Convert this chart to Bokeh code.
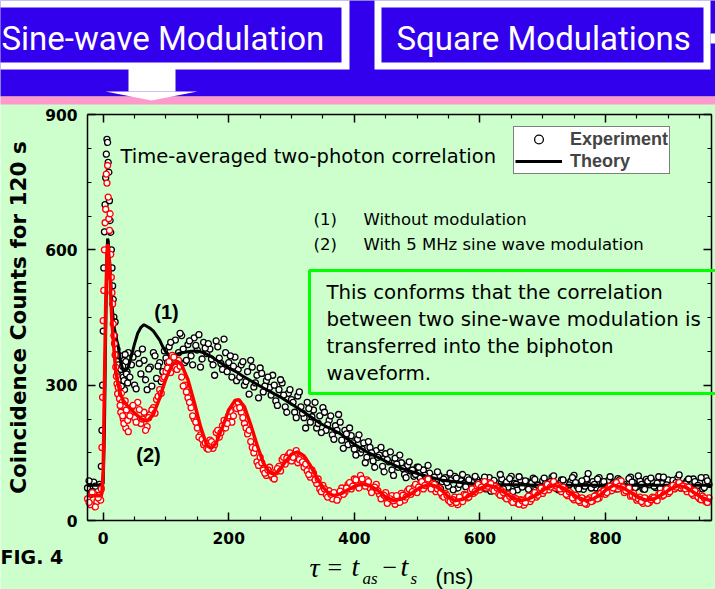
from bokeh.plotting import figure
from bokeh.models import Range1d, LinearAxis, FixedTicker, Label, Legend, LegendItem, BoxAnnotation
from bokeh.embed import file_html
from bokeh.resources import INLINE
from bokeh.core.properties import value

# ---------------- data ----------------
tau_ns = [-25, -20, -15, -10, -6,
          -4, -3, -2, -1, 0, 1, 2, 3, 4, 5, 6, 7, 8, 9, 10, 11, 12, 13, 14, 15, 16, 17, 18, 19, 20, 21, 22, 23, 24,
          26, 28, 30, 32, 34, 36, 38, 40,
          45, 50, 55, 60, 65, 70, 75, 80, 85, 90, 95, 100,
          105, 110, 115, 120, 125, 130, 135, 140, 145, 150, 155, 160, 165,
          170, 175, 180, 185, 190, 195, 200, 205, 210, 215,
          220, 225, 230, 235, 240, 245, 250, 255, 260, 265, 270, 275, 280, 285, 290, 295, 300,
          305, 310, 315, 320, 325, 330, 335, 340, 345, 350, 355, 360, 365, 370, 375, 380, 385, 390, 395, 400,
          405, 410, 415, 420, 425, 430, 435, 440, 445, 450, 455, 460, 465, 470, 475, 480, 485, 490, 495, 500,
          505, 510, 515, 520, 525, 530, 535, 540, 545, 550, 555, 560, 565, 570, 575, 580, 585, 590, 595, 600,
          605, 610, 615, 620, 625, 630, 635, 640, 645, 650, 655, 660, 665, 670, 675, 680, 685, 690, 695, 700,
          705, 710, 715, 720, 725, 730, 735, 740, 745, 750, 755, 760, 765, 770, 775, 780, 785, 790, 795, 800,
          805, 810, 815, 820, 825, 830, 835, 840, 845, 850, 855, 860, 865, 870, 875, 880, 885, 890, 895, 900,
          905, 910, 915, 920, 925, 930, 935, 940, 945, 950, 955, 960, 965]

# (1) without modulation - experiment
exp_no_mod = [72, 58, 85, 66, 80,
              75, 120, 200, 300, 420, 560, 640, 700, 760, 812, 845, 838, 794, 772, 709, 665, 639, 600, 560, 520,
              490, 451, 410, 440, 390, 365, 380, 330, 345,
              300, 335, 360, 318, 290, 352, 330, 372,
              345, 300, 370, 325, 355, 290, 340, 372, 315, 350, 330, 360,
              385, 345, 400, 372, 410, 350, 390, 365, 405, 378, 340, 395, 370,
              380, 345, 398, 360, 335, 372, 350, 318, 362, 335,
              345, 300, 330, 355, 296, 322, 338, 285, 310, 295, 322, 265, 290, 305, 252, 282, 268,
              240, 276, 252, 228, 262, 218, 245, 205, 232, 250, 200, 222, 190, 210, 235, 178, 200, 168, 188, 158,
              180, 150, 172, 140, 162, 132, 155, 145, 120, 148, 130, 112, 138, 118, 128, 102, 122, 110, 98, 118,
              95, 112, 88, 105, 92, 80, 100, 86, 95, 76, 90, 98, 72, 88, 82, 95, 70, 85, 92, 76,
              88, 70, 95, 78, 84, 66, 92, 80, 74, 98, 82, 68, 90, 77, 86, 72, 94, 80, 70, 88,
              83, 75, 96, 79, 68, 90, 84, 73, 87, 100, 76, 82, 69, 92, 78, 86, 72, 95, 81, 74,
              89, 67, 85, 93, 77, 80, 71, 96, 84, 75, 88, 70, 91, 79, 86, 73, 97, 82, 68, 90,
              76, 85, 94, 72, 81, 88, 74, 92, 78, 84, 70, 95, 80]

# (2) with 5 MHz sine wave modulation - experiment
exp_sine_mod = [48, 35, 60, 42, 55,
                45, 70, 162, 273, 443, 510, 600, 660, 690, 768, 748, 787, 717, 669, 643, 680, 590, 539, 505, 480,
                436, 410, 392, 367, 340, 320, 303, 281, 295,
                270, 240, 262, 225, 252, 205, 238, 197,
                250, 228, 262, 215, 240, 208, 235, 250, 268, 290, 315, 330,
                352, 366, 340, 355, 318, 300, 272, 250, 225, 205, 190, 168, 160,
                178, 160, 195, 185, 210, 205, 232, 218, 255, 262,
                240, 215, 192, 175, 150, 130, 140, 112, 100, 118, 95, 108, 120, 135, 125, 145, 132,
                148, 128, 140, 118, 110, 96, 105, 82, 70, 78, 58, 66, 48, 60, 52, 72, 62, 80, 70, 92,
                78, 100, 84, 90, 72, 68, 80, 58, 50, 62, 42, 55, 36, 50, 60, 45, 66, 58, 74, 62,
                80, 70, 88, 76, 82, 64, 72, 55, 60, 45, 38, 52, 35, 48, 58, 50, 66, 60, 75, 68,
                80, 72, 84, 70, 76, 60, 66, 52, 58, 44, 50, 38, 46, 34, 50, 42, 58, 52, 66, 60,
                74, 68, 82, 72, 78, 64, 70, 55, 60, 46, 52, 40, 48, 36, 50, 44, 56, 50, 64, 58,
                72, 66, 80, 70, 88, 62, 70, 54, 60, 45, 52, 38, 48, 40, 52, 46, 58, 54, 66, 60,
                74, 70, 80, 72, 76, 64, 70, 56, 62, 48, 54, 42, 50]

# second, interleaved set of sampling times (the data are sampled densely)
tau_ns_half = [-22.5, -17.5, -12.5, -8, 27, 29, 31, 33, 35, 37, 39,
               42.5, 47.5, 52.5, 57.5, 62.5, 67.5, 72.5, 77.5, 82.5, 87.5, 92.5, 97.5,
               102.5, 107.5, 112.5, 117.5, 122.5, 127.5, 132.5, 137.5, 142.5, 147.5, 152.5, 157.5, 162.5,
               167.5, 172.5, 177.5, 182.5, 187.5, 192.5, 197.5, 202.5, 207.5, 212.5,
               217.5, 222.5, 227.5, 232.5, 237.5, 242.5, 247.5, 252.5, 257.5, 262.5, 267.5, 272.5, 277.5,
               282.5, 287.5, 292.5, 297.5,
               302.5, 307.5, 312.5, 317.5, 322.5, 327.5, 332.5, 337.5, 342.5, 347.5,
               352.5, 357.5, 362.5, 367.5, 372.5, 377.5, 382.5, 387.5, 392.5, 397.5,
               402.5, 407.5, 412.5, 417.5, 422.5, 427.5, 432.5, 437.5, 442.5, 447.5,
               452.5, 457.5, 462.5, 467.5, 472.5, 477.5, 482.5, 487.5, 492.5, 497.5,
               502.5, 507.5, 512.5, 517.5, 522.5, 527.5, 532.5, 537.5, 542.5, 547.5,
               552.5, 557.5, 562.5, 567.5, 572.5, 577.5, 582.5, 587.5, 592.5, 597.5,
               602.5, 607.5, 612.5, 617.5, 622.5, 627.5, 632.5, 637.5, 642.5, 647.5,
               652.5, 657.5, 662.5, 667.5, 672.5, 677.5, 682.5, 687.5, 692.5, 697.5,
               702.5, 707.5, 712.5, 717.5, 722.5, 727.5, 732.5, 737.5, 742.5, 747.5,
               752.5, 757.5, 762.5, 767.5, 772.5, 777.5, 782.5, 787.5, 792.5, 797.5,
               802.5, 807.5, 812.5, 817.5, 822.5, 827.5, 832.5, 837.5, 842.5, 847.5,
               852.5, 857.5, 862.5, 867.5, 872.5, 877.5, 882.5, 887.5, 892.5, 897.5,
               902.5, 907.5, 912.5, 917.5, 922.5, 927.5, 932.5, 937.5, 942.5, 947.5,
               952.5, 957.5, 962.5]

exp_no_mod_half = [88, 64, 76, 55, 365, 298, 342, 310, 368, 325, 305,
                   318, 362, 292, 348, 380, 312, 336, 298, 365, 342, 308, 376,
                   350, 395, 362, 338, 415, 380, 355, 398, 345, 388, 412, 358, 382,
                   392, 358, 322, 385, 348, 402, 330, 365, 342, 310,
                   318, 352, 308, 280, 340, 305, 272, 326, 298, 318, 278, 300, 255, 312, 278, 240, 290,
                   262, 228, 285, 238, 205, 248, 230, 262, 215, 195, 240, 212, 232, 180, 200, 218, 160, 192, 205, 172,
                   145, 190, 158, 128, 175, 150, 118, 140, 162, 108, 135, 152, 100, 125, 145, 115, 95, 130, 112, 102,
                   118, 85, 100, 122, 78, 96, 108, 70, 92, 84, 105, 68, 94, 80, 102, 75, 90, 66, 98, 84,
                   72, 96, 81, 65, 89, 76, 102, 70, 85, 93, 64, 80, 97, 74, 88, 69, 83, 91, 78, 66,
                   94, 73, 86, 99, 71, 82, 90, 67, 79, 95, 84, 70, 88, 76, 104, 72, 80, 92, 68, 86,
                   75, 97, 82, 70, 90, 78, 65, 93, 85, 73, 99, 80, 69, 87, 94, 76, 83, 71, 96, 79,
                   67, 89, 84, 101, 74, 81, 92, 70, 86, 78, 95, 73, 88]

exp_sine_mod_half = [40, 62, 30, 50, 255, 282, 232, 215, 265, 245, 222,
                     232, 255, 218, 246, 225, 200, 228, 245, 238, 275, 282, 318,
                     338, 328, 362, 335, 342, 298, 285, 262, 232, 218, 185, 180, 172,
                     158, 175, 168, 200, 195, 222, 215, 242, 232, 248,
                     250, 228, 205, 200, 162, 160, 122, 128, 105, 112, 102, 92, 115, 110, 140, 138, 150,
                     140, 155, 135, 130, 125, 102, 112, 90, 92, 64, 70, 52, 58, 62, 45, 65, 58, 72, 84, 76,
                     90, 72, 92, 76, 86, 62, 74, 66, 48, 56, 38, 48, 44, 55, 40, 56, 52, 70, 64, 80,
                     74, 86, 78, 92, 70, 80, 70, 62, 52, 56, 42, 46, 40, 52, 42, 56, 52, 70, 64, 80,
                     74, 86, 76, 82, 66, 72, 56, 62, 48, 54, 40, 48, 36, 44, 40, 54, 48, 62, 56, 72,
                     66, 80, 74, 86, 76, 70, 74, 58, 64, 50, 56, 44, 50, 38, 46, 42, 54, 48, 60, 66,
                     62, 76, 72, 84, 76, 74, 66, 72, 56, 52, 48, 42, 50, 38, 46, 50, 44, 60, 56, 70,
                     64, 78, 74, 84, 76, 70, 74, 60, 66, 52, 46, 50, 40]

# theory curves
theory_no_mod_x = [-25, -5, 0, 2, 4, 6, 7, 8, 10, 12, 14, 16, 18, 20, 24, 28, 32, 36, 40, 45,
                   50, 55, 60, 65, 70, 75, 80, 85, 90, 95, 100, 105, 110, 120, 130, 140, 150, 160, 170, 180,
                   190, 200, 213, 220, 240, 260, 283, 300, 320, 346, 362, 378, 399, 420, 452, 474, 505, 538, 569, 601,
                   650, 700, 800, 900, 969]
theory_no_mod_y = [78, 78, 82, 200, 420, 590, 625, 620, 580, 530, 480, 445, 425, 410, 385, 350, 332, 333, 340, 365,
                   392, 415, 428, 434, 430, 426, 420, 410, 400, 385, 373, 367, 366, 370, 373, 375, 376, 372, 365, 356,
                   347, 338, 329, 322, 306, 290, 273, 258, 240, 215, 204, 192, 170, 152, 130, 116, 102, 90, 84, 80,
                   79, 78, 78, 78, 78]

theory_sine_x = [-25, -5, -2, 0, 2, 4, 6, 7, 8, 10, 12, 14, 16, 18, 20, 24, 28, 32, 38, 50,
                 60, 70, 80, 90, 100, 110, 118, 125, 135, 145, 155, 165, 172, 180, 190, 200, 210, 216, 225, 235,
                 245, 255, 265, 272, 280, 290, 300, 310, 320, 330, 340, 350, 360,
                 368, 380, 390, 402, 413, 425, 437, 450, 463, 477, 491, 505, 519, 530, 540, 550, 560, 573,
                 586, 599, 612, 625, 638, 651, 665, 678, 691, 704, 717, 730, 743, 756, 770, 781, 792, 802,
                 813, 826, 839, 852, 865, 878, 891, 904, 917, 929, 941, 953, 965, 969]
theory_sine_y = [55, 55, 60, 110, 300, 480, 590, 612, 608, 570, 500, 440, 400, 365, 330, 300, 278, 266, 255, 238,
                 226, 220, 235, 272, 315, 345, 353, 345, 312, 262, 208, 166, 160, 172, 207, 245, 266, 268, 252, 212,
                 168, 128, 106, 103, 110, 130, 147, 152, 143, 122, 96, 74, 59,
                 55, 60, 68, 77, 81, 77, 67, 52, 44, 48, 60, 73, 80, 76, 66, 52, 44, 47,
                 57, 70, 78, 74, 63, 51, 44, 48, 57, 70, 78, 74, 63, 51, 44, 48, 57, 69,
                 78, 74, 63, 51, 45, 48, 58, 70, 78, 73, 62, 51, 45, 45]

x_major_ticks = [0, 200, 400, 600, 800]
x_minor_ticks = [50, 100, 150, 250, 300, 350, 450, 500, 550, 650, 700, 750, 850, 900, 950]
y_major_ticks = [0, 300, 600, 900]
y_minor_ticks = [75, 150, 225, 375, 450, 525, 675, 750, 825]

# ---------------- layout constants ----------------
W, H = 715, 589
FRAME_L, FRAME_R, FRAME_T, FRAME_B = 87, 711, 114, 520   # where the data box lies, in page pixels
X_START, X_END = -25, 969
Y_START, Y_END = 0, 900

def dx(px):
    return X_START + (px - FRAME_L) * (X_END - X_START) / (FRAME_R - FRAME_L)

def dy(py):
    return Y_START + (FRAME_B - py) * (Y_END - Y_START) / (FRAME_B - FRAME_T)

def pairs(xs, ys):
    n = min(len(xs), len(ys))
    return list(xs[:n]), list(ys[:n])

BLUE = "#3300EE"
PINK = "#FF99CC"
BG = "#CCFFCC"
BRIGHT_GREEN = "#00FF00"

# the whole canvas is the frame; the data box is drawn with fixed-location axes
p = figure(width=W, height=H, x_range=Range1d(dx(0), dx(W)), y_range=Range1d(dy(H), dy(0)),
           output_backend="svg", toolbar_location=None, min_border=0,
           x_axis_location=None, y_axis_location=None,
           background_fill_color=BG, border_fill_color=BG, outline_line_color=None)
p.grid.visible = False

# ---------- slide banner ----------
def q(l, r, t, b, color):
    p.quad(left=[dx(l)], right=[dx(r)], top=[dy(t)], bottom=[dy(b)], fill_color=color, line_color=None)

q(-10, W + 10, -10, 96, BLUE)
q(-10, 349, -10, 69, "white")
q(-10, 341, 7, 62, BLUE)
q(374, 710, -10, 69, "white")
q(381, 703, 7, 62, BLUE)
q(710, W + 10, 33, 43, "white")
q(-10, W + 10, 96, 104, PINK)
q(128, 175, 68, 91, "white")
p.patch(x=[dx(105), dx(197), dx(151)], y=[dy(91), dy(91), dy(100)], fill_color="white", line_color=None)

def add_text(px, py, text, font="DejaVu Sans", size="16px", style="normal", align="left",
             color="black", baseline="middle"):
    p.add_layout(Label(x=dx(px), y=dy(py), text=text, text_font=font, text_font_size=size,
                       text_font_style=style, text_align=align, text_baseline=baseline,
                       text_color=color))

add_text(1, 38, "Sine-wave Modulation", font="Roboto", size="33px", color="white")
add_text(396, 38, "Square Modulations", font="Roboto", size="33px", color="white")

# ---------- axes ----------
xticker = FixedTicker(ticks=x_major_ticks, minor_ticks=x_minor_ticks)
yticker = FixedTicker(ticks=y_major_ticks, minor_ticks=y_minor_ticks)

def style_axis(ax, labels=True):
    ax.axis_line_color = "black"
    ax.axis_line_width = 1.5
    ax.major_tick_in = 8
    ax.major_tick_out = 0
    ax.minor_tick_in = 4
    ax.minor_tick_out = 0
    ax.major_tick_line_width = 1.5
    ax.minor_tick_line_width = 1.2
    ax.major_tick_line_color = "black"
    ax.minor_tick_line_color = "black"
    if labels:
        ax.major_label_text_font = "DejaVu Sans"
        ax.major_label_text_font_style = "bold"
        ax.major_label_text_font_size = "15.5px"
        ax.major_label_text_color = "black"
    else:
        ax.major_label_text_color = None

ax_b = LinearAxis(ticker=xticker, fixed_location=Y_START, bounds=(X_START, X_END))
style_axis(ax_b)
ax_b.major_label_standoff = 11
p.add_layout(ax_b, "below")

ax_t = LinearAxis(ticker=xticker, fixed_location=Y_END, bounds=(X_START, X_END))
style_axis(ax_t, labels=False)
p.add_layout(ax_t, "above")

ax_l = LinearAxis(ticker=yticker, fixed_location=X_START, bounds=(Y_START, Y_END),
                  axis_label="Coincidence Counts for 120 s")
style_axis(ax_l)
ax_l.major_label_standoff = 10
ax_l.axis_label_text_font = "DejaVu Sans"
ax_l.axis_label_text_font_style = "bold"
ax_l.axis_label_text_font_size = "21.5px"
ax_l.axis_label_text_color = "black"
ax_l.axis_label_standoff = 11
p.add_layout(ax_l, "left")

ax_r = LinearAxis(ticker=yticker, fixed_location=X_END, bounds=(Y_START, Y_END))
style_axis(ax_r, labels=False)
p.add_layout(ax_r, "right")

# green text box (slide overlay)
p.add_layout(BoxAnnotation(left=dx(309), right=dx(740), top=dy(270), bottom=dy(393),
                           fill_alpha=0, line_color=BRIGHT_GREEN, line_alpha=1.0, line_width=3))

# ---------- data ----------
x1a, y1a = pairs(tau_ns, exp_no_mod)
x1b, y1b = pairs(tau_ns_half, exp_no_mod_half)
x2a, y2a = pairs(tau_ns, exp_sine_mod)
x2b, y2b = pairs(tau_ns_half, exp_sine_mod_half)

circle_style = dict(marker="circle", size=6, fill_color="white", line_width=1.3)
r_e1 = p.scatter(x1a + x1b, y1a + y1b, line_color="black", **circle_style)
r_t1 = p.line(theory_no_mod_x, theory_no_mod_y, line_color="black", line_width=3)
r_e2 = p.scatter(x2a + x2b, y2a + y2b, line_color="red", **circle_style)
r_t2 = p.line(theory_sine_x, theory_sine_y, line_color="red", line_width=3.5)

legend = Legend(items=[LegendItem(label=value("Experiment"), renderers=[r_e1]),
                       LegendItem(label=value("Theory"), renderers=[r_t1])],
                location=(513, H - 174), margin=0, padding=1, spacing=0,
                glyph_width=47, glyph_height=22, label_height=22, label_standoff=8,
                label_text_font="Liberation Sans", label_text_font_style="bold",
                label_text_font_size="18px", border_line_color="black", border_line_width=1,
                background_fill_color="white", background_fill_alpha=1.0)
p.add_layout(legend)

# ---------- texts ----------
add_text(120, 156, "Time-averaged two-photon correlation", size="19.5px")
add_text(313, 219, "(1)", size="16.5px")
add_text(363, 219, "Without modulation", size="16.5px")
add_text(313, 244, "(2)", size="16.5px")
add_text(363, 244, "With 5 MHz sine wave modulation", size="16.5px")
box_lines = ["This conforms that the correlation",
             "between two sine-wave modulation is",
             "transferred into the biphoton",
             "waveform."]
for i, line in enumerate(box_lines):
    add_text(326, 292 + 27 * i, line, size="19.8px")
add_text(166, 311, "(1)", font="Liberation Sans", size="20px", style="bold", align="center")
add_text(148, 454, "(2)", font="Liberation Sans", size="20px", style="bold", align="center")
add_text(0, 556, "FIG. 4", font="DejaVu Sans", size="19px", style="bold")
# x axis title:  tau = t_as - t_s (ns)
add_text(309, 567, "\u03c4", font="Liberation Serif", size="28px", style="italic")
add_text(327, 567, "=", font="Liberation Serif", size="26px")
add_text(351, 566, "t", font="Liberation Serif", size="28px", style="italic")
add_text(362, 578, "as", font="Liberation Serif", size="17px", style="italic")
add_text(382, 567, "\u2212", font="Liberation Serif", size="26px")
add_text(400, 566, "t", font="Liberation Serif", size="28px", style="italic")
add_text(410, 578, "s", font="Liberation Serif", size="17px", style="italic")
add_text(435, 576, "(ns)", font="Liberation Sans", size="22px")

open("out.html", "w").write(file_html(p, INLINE, title="Sine-wave modulation"))
